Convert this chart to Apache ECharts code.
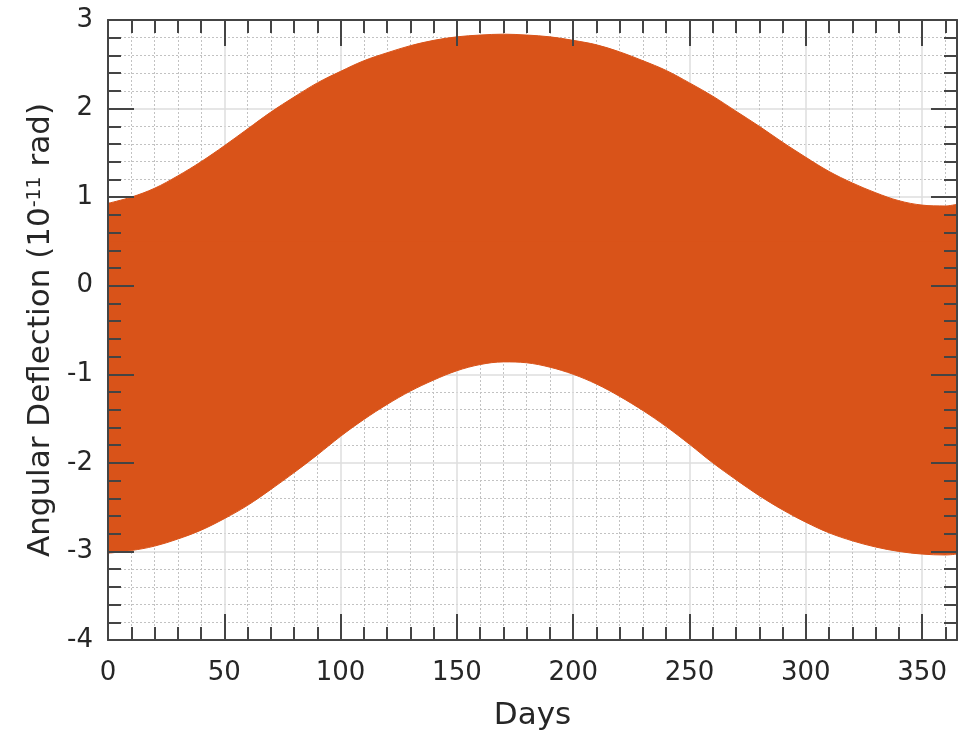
<!DOCTYPE html>
<html>
<head>
<meta charset="utf-8">
<script src="https://cdn.jsdelivr.net/npm/echarts@6/dist/echarts.min.js"></script>
<style>
html,body{margin:0;padding:0;background:#fff;}
#chart{width:971px;height:743px;}
</style>
</head>
<body>
<div id="chart"></div>
<script>
// Envelope of the daily oscillation (days, 10^-11 rad)
const days  = [0,10,20,30,40,50,60,70,80,90,100,110,120,130,140,150,160,170,180,190,200,210,220,230,240,250,260,270,280,290,300,310,320,330,340,350,360,365];
const upper = [0.93,1.00,1.10,1.24,1.40,1.58,1.77,1.96,2.13,2.29,2.42,2.54,2.63,2.71,2.77,2.81,2.83,2.84,2.83,2.81,2.77,2.72,2.64,2.54,2.43,2.29,2.14,1.97,1.80,1.62,1.45,1.29,1.16,1.05,0.96,0.91,0.90,0.92];
const lower = [-3.02,-2.99,-2.94,-2.86,-2.76,-2.63,-2.48,-2.30,-2.11,-1.91,-1.70,-1.51,-1.34,-1.19,-1.065,-0.96,-0.89,-0.86,-0.87,-0.92,-1.00,-1.11,-1.25,-1.41,-1.59,-1.79,-2.00,-2.19,-2.37,-2.53,-2.67,-2.79,-2.88,-2.95,-3.00,-3.03,-3.04,-3.03];
const xTicks = [0,50,100,150,200,250,300,350];
const yTicks = [-4,-3,-2,-1,0,1,2,3];

const FONT = '"DejaVu Sans", sans-serif';
const AX = '#444444';
const TXT = '#262626';
const ORANGE = '#D95319';

const chart = echarts.init(document.getElementById('chart'), null, {renderer:'canvas'});

const xBase = {type:'value', min:0, max:365, interval:50};
const yBase = {type:'value', min:-4, max:3, interval:1};

const tickStyle = {show:true, inside:true, length:26, lineStyle:{color:AX, width:2}};
const minorTickStyle = {show:true, splitNumber:5, length:13, lineStyle:{color:AX, width:2}};
const gridMajor = {show:true, lineStyle:{color:'#dedede', width:1.5}};
const gridMinor = {show:true, lineStyle:{color:'#c2c2c2', width:1, type:[2,2]}};

const upperData = days.map((d,i)=>[d, upper[i]]);
const lowerData = days.map((d,i)=>[d, lower[i]]);

// the two filled areas overlap slightly around zero so no seam shows between them
function envelopeSeries(name, data, origin){
  return {
    type:'line', name:name, xAxisIndex:0, yAxisIndex:0,
    data:data, smooth:0.35, symbol:'none',
    lineStyle:{color:ORANGE, width:1},
    areaStyle:{color:ORANGE, opacity:1, origin:origin},
    z:2
  };
}

chart.setOption({
  animation:false,
  grid:{left:108, right:14, top:20, bottom:103, containLabel:false},
  xAxis:[
    Object.assign({}, xBase, {
      position:'bottom', z:0,
      axisLine:{show:false, onZero:false}, axisTick:{show:false}, axisLabel:{show:false},
      splitLine:gridMajor,
      minorTick:{show:false, splitNumber:5},
      minorSplitLine:gridMinor
    }),
    Object.assign({}, xBase, {
      position:'bottom', z:10,
      name:'Days', nameLocation:'middle', nameGap:60,
      nameTextStyle:{fontFamily:FONT, fontSize:31, color:TXT},
      axisLine:{show:true, onZero:false, lineStyle:{color:AX, width:2}},
      axisTick:tickStyle, minorTick:minorTickStyle,
      axisLabel:{show:true, margin:20, fontFamily:FONT, fontSize:26, color:TXT,
        formatter:(v)=> xTicks.indexOf(v)>=0 ? String(v) : ''},
      splitLine:{show:false}
    }),
    Object.assign({}, xBase, {
      position:'top', z:10,
      axisLine:{show:true, onZero:false, lineStyle:{color:AX, width:2}},
      axisTick:tickStyle, minorTick:minorTickStyle,
      axisLabel:{show:false}, splitLine:{show:false}
    })
  ],
  yAxis:[
    Object.assign({}, yBase, {
      position:'left', z:0,
      axisLine:{show:false, onZero:false}, axisTick:{show:false}, axisLabel:{show:false},
      splitLine:gridMajor,
      minorTick:{show:false, splitNumber:5},
      minorSplitLine:gridMinor
    }),
    Object.assign({}, yBase, {
      position:'left', z:10,
      name:'Angular Deflection (10{sup|-11} rad)', nameLocation:'middle', nameGap:50, nameRotate:90,
      nameTextStyle:{fontFamily:FONT, fontSize:31, lineHeight:31, color:TXT,
        rich:{sup:{fontFamily:FONT, fontSize:19, lineHeight:19, color:TXT, verticalAlign:'top'}}},
      axisLine:{show:true, onZero:false, lineStyle:{color:AX, width:2}},
      axisTick:tickStyle, minorTick:minorTickStyle,
      axisLabel:{show:true, margin:15, padding:[8,0,0,0], fontFamily:FONT, fontSize:26, color:TXT,
        formatter:(v)=> yTicks.indexOf(v)>=0 ? String(v) : ''},
      splitLine:{show:false}
    }),
    Object.assign({}, yBase, {
      position:'right', z:10,
      axisLine:{show:true, onZero:false, lineStyle:{color:AX, width:2}},
      axisTick:tickStyle, minorTick:minorTickStyle,
      axisLabel:{show:false}, splitLine:{show:false}
    })
  ],
  series:[
    envelopeSeries('Upper envelope', upperData, -0.5),
    envelopeSeries('Lower envelope', lowerData, 0.5)
  ]
});
</script>
</body>
</html>
